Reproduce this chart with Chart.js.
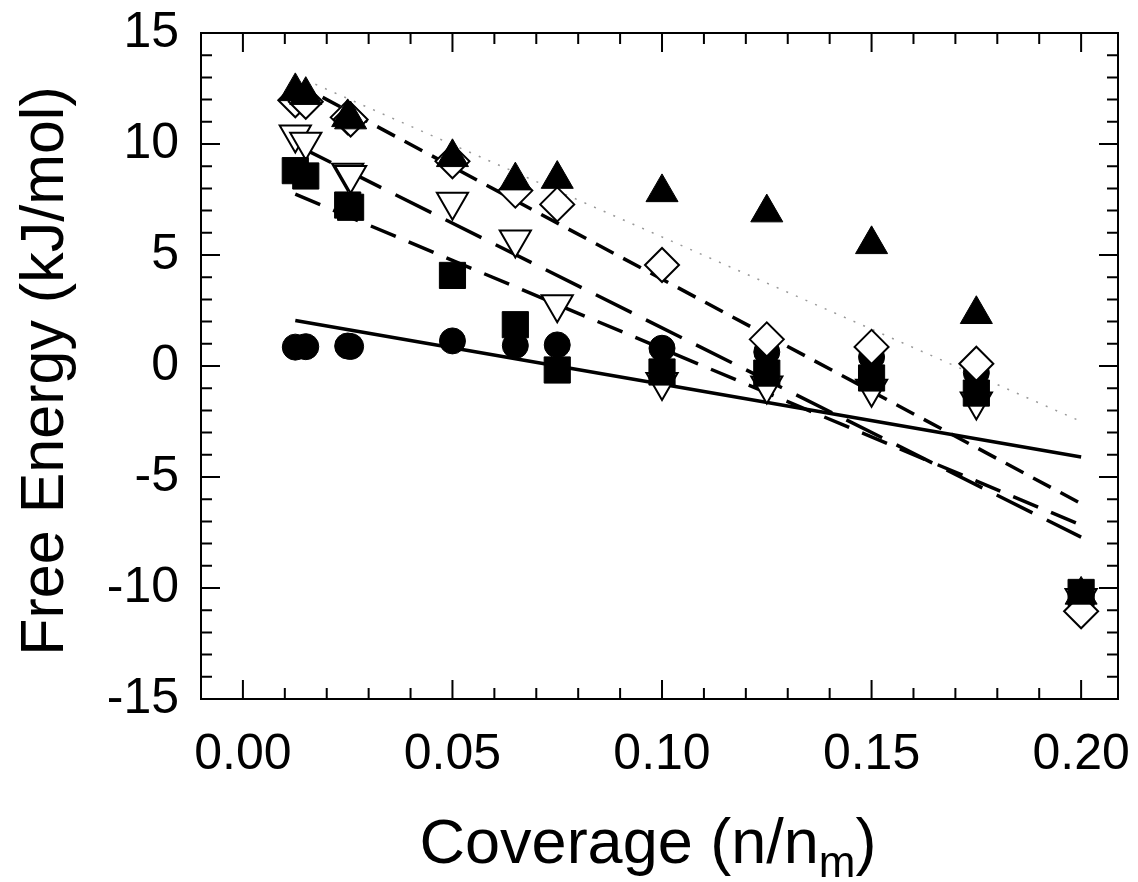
<!DOCTYPE html>
<html>
<head>
<meta charset="utf-8">
<script src="https://cdn.jsdelivr.net/npm/chart.js"></script>
<style>
  body { margin: 0; background: #fff; }
  #wrap { width: 1138px; height: 882px; }
</style>
</head>
<body>
<div id="wrap"><canvas id="chart"></canvas></div>
<script>
// coverage values (n/nm)
const coverage = [0.0125, 0.015, 0.025, 0.0257, 0.05, 0.065, 0.075, 0.10, 0.125, 0.15, 0.175, 0.20];

// free energy (kJ/mol) per series
const circles   = [0.85, 0.87, 0.90, 0.88, 1.13, 0.92, 0.95, 0.80, 0.63, 0.40, -0.30, -10.30];
const squares   = [8.80, 8.56, 7.25, 7.15, 4.08, 1.86, -0.18, -0.27, -0.32, -0.54, -1.22, -10.20];
const triDown   = [10.43, 10.10, 8.70, 8.60, 7.40, 5.70, 2.78, -0.72, -0.88, -1.03, -1.60, -10.45];
const diamonds  = [11.97, 11.90, 11.20, 11.10, 9.22, 7.90, 7.28, 4.55, 1.20, 0.86, 0.10, -11.05];
const triUp     = [12.37, 12.20, 11.20, 11.10, 9.40, 8.35, 8.42, 7.82, 6.91, 5.48, 2.33, -10.31];

// linear fit lines, [start, end]
const fitX       = [0.0125, 0.20];
const fitCircles = [2.05, -4.10];
const fitSquares = [7.74, -7.17];
const fitTriDown = [9.97, -7.71];
const fitDiamond = [12.76, -6.20];
const fitTriUpX  = [0.015, 0.20];
const fitTriUp   = [12.88, -2.50];

// axis ticks
const xTicks = [0, 0.05, 0.10, 0.15, 0.20];
const yTicks = [-15, -10, -5, 0, 5, 10, 15];

const FONT = '"Liberation Sans", Arial, Helvetica, sans-serif';
Chart.defaults.color = '#000';
Chart.defaults.font.family = FONT;

const pts = (xs, ys) => xs.map((x, i) => ({ x: x, y: ys[i] }));

function fitLine(xs, ys, dash, color, width) {
  return {
    data: pts(xs, ys),
    showLine: true,
    borderColor: color || '#000',
    borderWidth: width || 3.5,
    borderDash: dash,
    pointRadius: 0,
    fill: false,
    order: 10
  };
}

// frame, inward ticks on all four sides, and axis titles
const framePlugin = {
  id: 'frame',
  afterDraw(chart) {
    const { ctx, chartArea: a, scales: { x, y } } = chart;
    ctx.save();
    ctx.strokeStyle = '#000';
    ctx.lineWidth = 2;
    ctx.strokeRect(a.left, a.top, a.right - a.left, a.bottom - a.top);
    ctx.beginPath();
    for (let i = 0; i <= 20; i++) {
      const px = x.getPixelForValue(i / 100);
      const len = i % 5 === 0 ? 19 : 11;
      ctx.moveTo(px, a.bottom); ctx.lineTo(px, a.bottom - len);
      ctx.moveTo(px, a.top); ctx.lineTo(px, a.top + len);
    }
    for (let v = -14; v <= 14; v++) {
      const py = y.getPixelForValue(v);
      const len = v % 5 === 0 ? 19 : 11;
      ctx.moveTo(a.left, py); ctx.lineTo(a.left + len, py);
      ctx.moveTo(a.right, py); ctx.lineTo(a.right - len, py);
    }
    ctx.stroke();

    ctx.fillStyle = '#000';
    // y title
    ctx.save();
    ctx.translate(63, 371);
    ctx.rotate(-Math.PI / 2);
    ctx.font = '61px ' + FONT;
    ctx.textAlign = 'center';
    ctx.textBaseline = 'alphabetic';
    ctx.fillText('Free Energy (kJ/mol)', 0, 0);
    ctx.restore();

    // x title with subscript m
    const main = 'Coverage (n/n', sub = 'm', tail = ')';
    ctx.textBaseline = 'alphabetic';
    ctx.textAlign = 'left';
    ctx.font = '63px ' + FONT;
    const w1 = ctx.measureText(main).width, w3 = ctx.measureText(tail).width;
    ctx.font = '44px ' + FONT;
    const w2 = ctx.measureText(sub).width;
    let sx = 648 - (w1 + w2 + w3) / 2;
    const base = 863;
    ctx.font = '63px ' + FONT;
    ctx.fillText(main, sx, base);
    ctx.font = '44px ' + FONT;
    ctx.fillText(sub, sx + w1, base + 14);
    ctx.font = '63px ' + FONT;
    ctx.fillText(tail, sx + w1 + w2, base);
    ctx.restore();
  }
};

new Chart(document.getElementById('chart').getContext('2d'), {
  type: 'scatter',
  data: {
    datasets: [
      fitLine(fitX, fitCircles, []),
      fitLine(fitX, fitSquares, [27, 14]),
      fitLine(fitX, fitTriDown, [40, 16]),
      fitLine(fitX, fitDiamond, [20, 11]),
      fitLine(fitTriUpX, fitTriUp, [2, 8.5], '#999', 1.5),
      {
        data: pts(coverage, circles), pointStyle: 'circle', pointRadius: 13,
        backgroundColor: '#000', borderColor: '#000', borderWidth: 1, order: 5
      },
      {
        data: pts(coverage, triDown), pointStyle: 'triangle', rotation: 180, pointRadius: 18,
        backgroundColor: '#fff', borderColor: '#000', borderWidth: 2, order: 4
      },
      {
        data: pts(coverage, squares), pointStyle: 'rect', pointRadius: 18.5,
        backgroundColor: '#000', borderColor: '#000', borderWidth: 1, order: 3
      },
      {
        data: pts(coverage, diamonds), pointStyle: 'rectRot', pointRadius: 17,
        backgroundColor: '#fff', borderColor: '#000', borderWidth: 2, order: 2
      },
      {
        data: pts(coverage, triUp), pointStyle: 'triangle', pointRadius: 18.5,
        backgroundColor: '#000', borderColor: '#000', borderWidth: 1, order: 1
      }
    ]
  },
  options: {
    responsive: true,
    maintainAspectRatio: false,
    animation: false,
    layout: { padding: { top: 33, right: 15, left: 0, bottom: 0 } },
    plugins: { legend: { display: false }, tooltip: { enabled: false } },
    scales: {
      x: {
        type: 'linear',
        min: -0.01,
        max: 0.2088,
        afterBuildTicks: s => { s.ticks = xTicks.map(v => ({ value: v })); },
        afterFit: s => { s.height = 183; s.paddingLeft = 0; s.paddingRight = 0; },
        ticks: {
          callback: v => v.toFixed(2),
          font: { size: 50 },
          padding: 26,
          maxRotation: 0,
          autoSkip: false
        },
        grid: { display: false, drawTicks: false },
        border: { display: false }
      },
      y: {
        min: -15,
        max: 15,
        afterBuildTicks: s => { s.ticks = yTicks.map(v => ({ value: v })); },
        afterFit: s => { s.width = 201; s.paddingTop = 0; s.paddingBottom = 0; },
        ticks: { font: { size: 50 }, padding: 22 },
        grid: { display: false, drawTicks: false },
        border: { display: false }
      }
    }
  },
  plugins: [framePlugin]
});
</script>
</body>
</html>
